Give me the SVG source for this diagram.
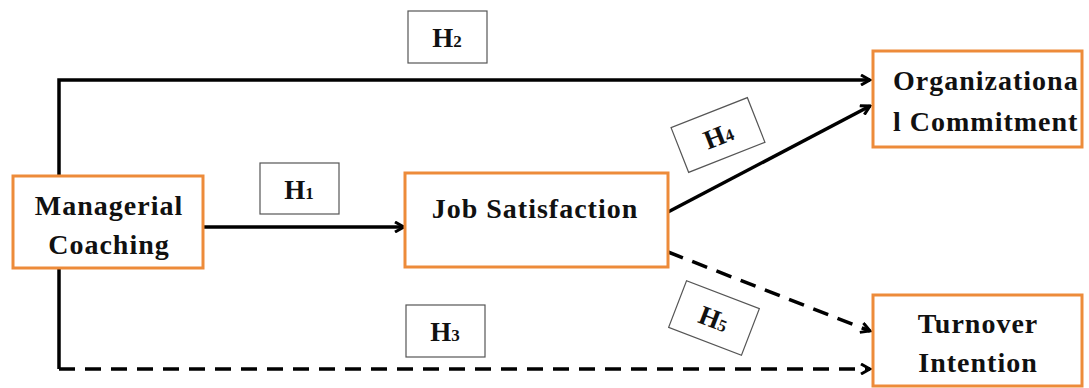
<svg xmlns="http://www.w3.org/2000/svg" width="1089" height="388" viewBox="0 0 1089 388">
<defs>
<style>
.node{fill:#fff;stroke:#ED8B3A;stroke-width:3}
.t{font-family:"Liberation Serif","Times New Roman",serif;font-weight:bold;font-size:28px;letter-spacing:1px;fill:#111}
.h{font-family:"Liberation Serif","Times New Roman",serif;font-weight:bold;font-size:27px;fill:#111}
.sub{font-size:17px}
.hb{fill:#fff;stroke:#555;stroke-width:1.2}
.line{fill:none;stroke:#000;stroke-width:3.5}
.dash{stroke-dasharray:16 10}
</style>
<marker id="ah" markerWidth="12" markerHeight="12" refX="10" refY="6" orient="auto" markerUnits="userSpaceOnUse" viewBox="0 0 12 12">
<path d="M1,1 L10,6 L1,11" fill="none" stroke="#000" stroke-width="3"/>
</marker>
</defs>
<rect width="1089" height="388" fill="#fff"/>
<g id="connectors">
<path class="line" d="M59,369 L59,80 L870,80" marker-end="url(#ah)"/>
<path class="line" d="M203,227 L404,227" marker-end="url(#ah)"/>
<path class="line" d="M668,212 L870,106" marker-end="url(#ah)"/>
<path class="line dash" d="M668,252 L870,331" marker-end="url(#ah)"/>
<path class="line dash" d="M59,369 L870,369" marker-end="url(#ah)"/>
</g>
<g id="H1"><rect class="hb" x="260" y="163" width="79" height="51"/><text class="h" x="299" y="199" text-anchor="middle">H<tspan class="sub">1</tspan></text></g>
<g id="H2"><rect class="hb" x="408" y="11" width="79" height="52"/><text class="h" x="447" y="47" text-anchor="middle">H<tspan class="sub">2</tspan></text></g>
<g id="H3"><rect class="hb" x="406" y="305" width="79" height="52"/><text class="h" x="445" y="341" text-anchor="middle">H<tspan class="sub">3</tspan></text></g>
<g id="H4" transform="translate(718,135) rotate(-21.5)"><rect class="hb" x="-41" y="-24" width="82" height="48"/><text class="h" x="0" y="10" text-anchor="middle">H<tspan class="sub">4</tspan></text></g>
<g id="H5" transform="translate(714,318) rotate(21)"><rect class="hb" x="-39" y="-25" width="78" height="50"/><text class="h" x="0" y="10" text-anchor="middle">H<tspan class="sub">5</tspan></text></g>
<g id="managerial-coaching"><rect class="node" x="13" y="176" width="190" height="92"/><text class="t" x="109" y="215" text-anchor="middle">Managerial</text><text class="t" x="109" y="254" text-anchor="middle">Coaching</text></g>
<g id="job-satisfaction"><rect class="node" x="405" y="173" width="263" height="94"/><text class="t" x="535" y="218" text-anchor="middle">Job Satisfaction</text></g>
<g id="organizational-commitment"><rect class="node" x="873" y="51" width="209" height="96"/><text class="t" x="893" y="90">Organizationa</text><text class="t" x="893" y="131">l Commitment</text></g>
<g id="turnover-intention"><rect class="node" x="873" y="295" width="209" height="91"/><text class="t" x="978" y="333" text-anchor="middle">Turnover</text><text class="t" x="978" y="372" text-anchor="middle">Intention</text></g>
</svg>
